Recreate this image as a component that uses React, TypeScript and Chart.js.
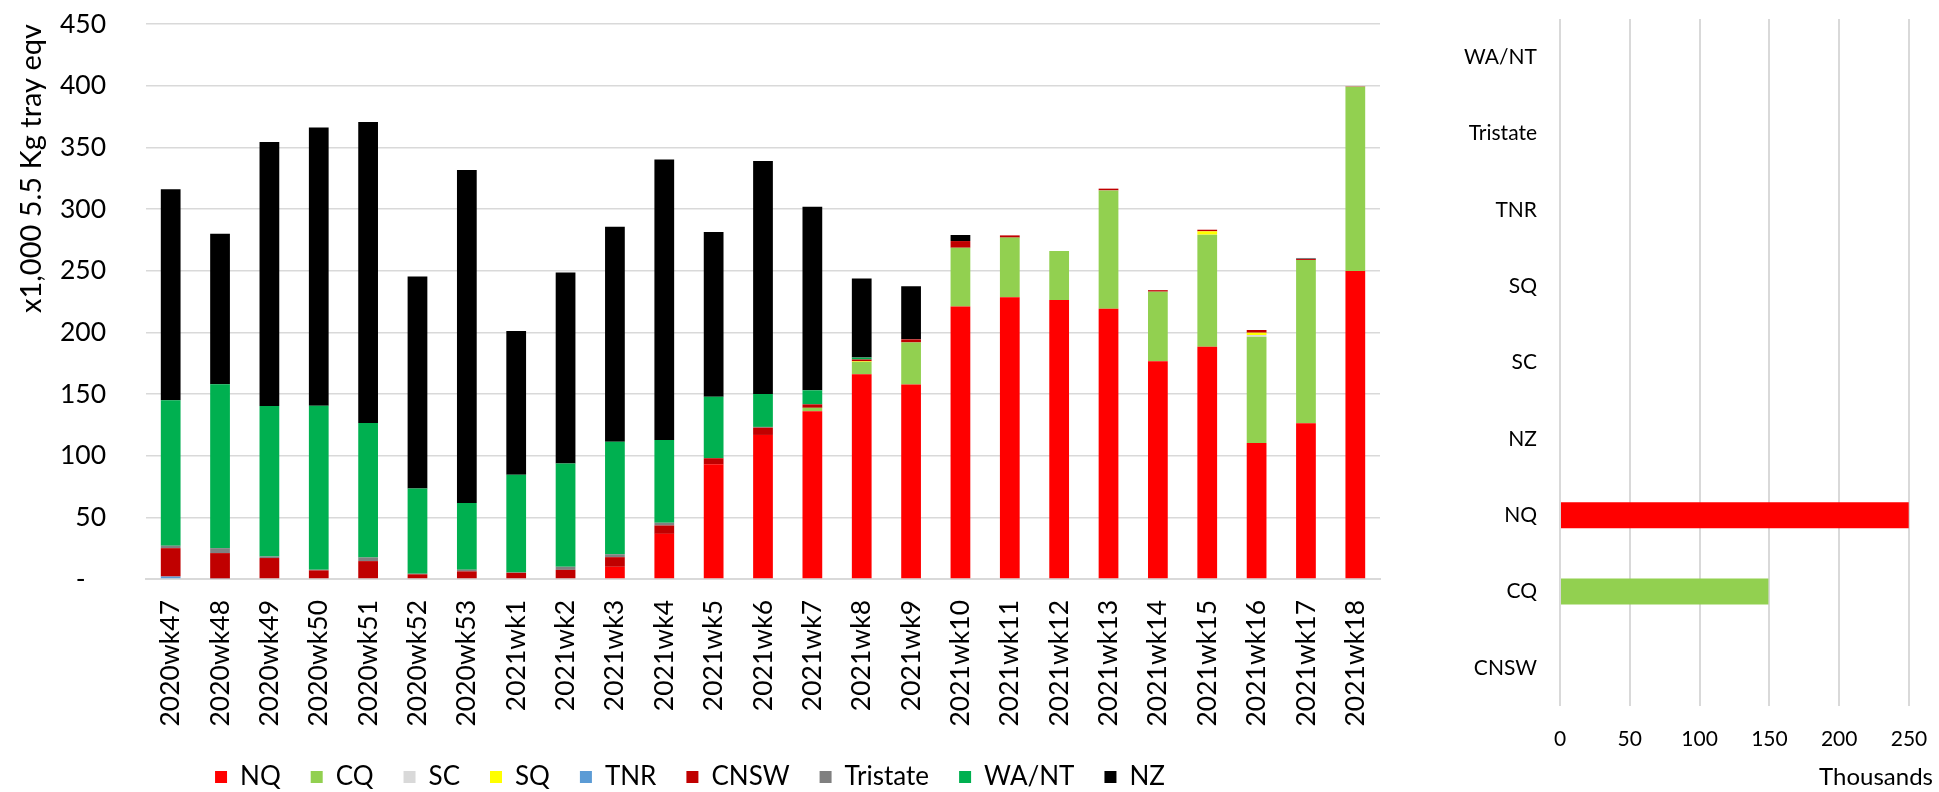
import React, { useEffect, useRef } from "react";
import { Chart, registerables } from "chart.js";

Chart.register(...registerables);

// ---------- data ----------
const weeks = [
  "2020wk47", "2020wk48", "2020wk49", "2020wk50", "2020wk51", "2020wk52", "2020wk53",
  "2021wk1", "2021wk2", "2021wk3", "2021wk4", "2021wk5", "2021wk6", "2021wk7", "2021wk8",
  "2021wk9", "2021wk10", "2021wk11", "2021wk12", "2021wk13", "2021wk14", "2021wk15",
  "2021wk16", "2021wk17", "2021wk18",
];

const NQ = [0, 0, 0, 0, 0, 0, 0, 0, 0, 9.9, 36.6, 93, 116.8, 136, 166, 157.7, 221, 228.4, 226.2, 219.2, 176.5, 188.4, 110.3, 126.2, 249.8];
const CQ = [0, 0, 0, 0, 0, 0, 0, 0, 0, 0, 0, 0, 0, 2.8, 10, 34.1, 47.6, 48.4, 39.8, 95.9, 56.5, 90.8, 86.2, 132.4, 149.3];
const SC = [0, 0, 0, 0, 0, 0, 0, 0, 0, 0, 0, 0, 0, 0, 0, 0, 0, 0, 0, 0, 0, 0, 1.3, 0, 0];
const SQ = [0, 0, 0, 0, 0, 0, 0, 0, 0, 0, 0, 0, 0, 0, 0.5, 0, 0, 0, 0, 0, 0, 2.7, 1.9, 0, 0];
const TNR = [2, 0.5, 0, 0, 0, 0, 0, 0, 0, 0, 0, 0, 0, 0, 0, 0, 0, 0, 0, 0, 0, 0, 0, 0, 0];
const CNSW = [23, 20.5, 17, 7, 14.5, 3.8, 6.2, 5, 7.4, 7.8, 6.8, 4.9, 5.9, 2.8, 1.5, 2.5, 5.4, 1.8, 0, 1.4, 1.2, 1.3, 2.2, 0.8, 0.3];
const Tristate = [2, 4, 1.3, 0.5, 3, 0.5, 1.4, 0.3, 2.5, 2.4, 2.2, 0, 0.6, 0, 0, 0, 0, 0, 0, 0, 0, 0, 0, 0.9, 0];
const WANT = [118, 133, 122, 133, 109, 69, 54, 79.3, 83.7, 91.1, 67.2, 49.9, 26.7, 11.4, 1.5, 0, 0, 0, 0, 0, 0, 0, 0, 0, 0];
const NZ = [171, 122, 214, 225.5, 244, 172, 270, 116.4, 155, 174.5, 227.4, 133.6, 189, 148.8, 64.1, 43.1, 4.9, 0, 0, 0, 0, 0, 0, 0, 0];

const leftMax = 450;
const leftStep = 50;

// right panel: latest week (2021wk18) by region, raw trays
const regions = ["WA/NT", "Tristate", "TNR", "SQ", "SC", "NZ", "NQ", "CQ", "CNSW"];
const latestWeek = [0, 0, 0, 0, 0, 0, 249800, 149300, 0];
const rightMax = 250000;
const rightStep = 50000;

// ---------- styles ----------
const FONT = "Lato, 'Noto Sans', sans-serif";
const COLORS: Record<string, string> = {
  NQ: "#FF0000",
  CQ: "#92D050",
  SC: "#D9D9D9",
  SQ: "#FFFF00",
  TNR: "#5B9BD5",
  CNSW: "#C00000",
  Tristate: "#808080",
  "WA/NT": "#00B050",
  NZ: "#000000",
};
const GRID = "#D9D9D9";

const LEFT_W = 1394;
const RIGHT_X = 1393;
const RIGHT_W = 1939 - RIGHT_X;
const H = 792;

export default function App() {
  const leftRef = useRef<HTMLCanvasElement | null>(null);
  const rightRef = useRef<HTMLCanvasElement | null>(null);

  useEffect(() => {
    let left: Chart | null = null;
    let right: Chart | null = null;
    let cancelled = false;

    const build = () => {
      if (cancelled || !leftRef.current || !rightRef.current) return;
      Chart.defaults.color = "#000";
      Chart.defaults.font.family = FONT;

      const series: [string, number[]][] = [
        ["NQ", NQ],
        ["CQ", CQ],
        ["SC", SC],
        ["SQ", SQ],
        ["TNR", TNR],
        ["CNSW", CNSW],
        ["Tristate", Tristate],
        ["WA/NT", WANT],
        ["NZ", NZ],
      ];

      left = new Chart(leftRef.current, {
        type: "bar",
        data: {
          labels: weeks,
          datasets: series.map(([name, vals]) => ({
            label: name,
            data: vals,
            backgroundColor: COLORS[name],
            borderWidth: 0,
            barPercentage: 0.4,
            categoryPercentage: 1,
          })),
        },
        options: {
          responsive: false,
          animation: false,
          layout: { padding: { top: 24, right: LEFT_W - 1380, left: 0, bottom: -8 } },
          plugins: {
            tooltip: { enabled: false },
            legend: {
              position: "bottom",
              labels: {
                boxWidth: 12,
                boxHeight: 12,
                padding: 30,
                font: { size: 26, family: FONT },
                color: "#000",
              },
            },
          },
          scales: {
            x: {
              stacked: true,
              grid: { display: false, drawTicks: false },
              border: { display: true, color: GRID, width: 2 },
              ticks: {
                autoSkip: false,
                minRotation: 90,
                maxRotation: 90,
                padding: 21,
                font: { size: 26.5, family: FONT },
                color: "#000",
              },
              afterFit: (s: any) => {
                s.height = 155;
                s.paddingLeft = 0;
                s.paddingRight = 0;
              },
            },
            y: {
              stacked: true,
              min: 0,
              max: leftMax,
              ticks: {
                stepSize: leftStep,
                padding: 40,
                font: { size: 26.5, family: FONT },
                color: "#000",
                callback: (v: any) => (Number(v) === 0 ? "-   " : String(v)),
              },
              grid: { color: GRID, lineWidth: 1.5, drawTicks: false },
              border: { display: false },
              title: {
                display: true,
                text: "x1,000 5.5 Kg tray eqv",
                align: "end",
                font: { size: 29, family: FONT },
                color: "#000",
                padding: { top: 14, bottom: 0 },
              },
              afterFit: (s: any) => {
                s.width = 146;
                s.paddingTop = 0;
                s.paddingBottom = 0;
              },
            },
          },
        },
      });

      const thousandsPlugin = {
        id: "thousandsLabel",
        afterDraw(chart: any) {
          const ctx = chart.ctx;
          ctx.save();
          ctx.font = `24px ${FONT}`;
          ctx.fillStyle = "#000";
          ctx.textAlign = "right";
          ctx.textBaseline = "middle";
          ctx.fillText("Thousands", 1933 - RIGHT_X, 777);
          ctx.restore();
        },
      };

      right = new Chart(rightRef.current, {
        type: "bar",
        data: {
          labels: regions,
          datasets: [
            {
              label: "Latest week",
              data: latestWeek,
              backgroundColor: regions.map((r) => COLORS[r]),
              borderWidth: 0,
              barPercentage: 0.34,
              categoryPercentage: 1,
            },
          ],
        },
        options: {
          indexAxis: "y",
          responsive: false,
          animation: false,
          layout: { padding: { top: 19, right: RIGHT_W - (1909 - RIGHT_X), left: 0, bottom: 0 } },
          plugins: { legend: { display: false }, tooltip: { enabled: false } },
          scales: {
            x: {
              min: 0,
              max: rightMax,
              ticks: {
                stepSize: rightStep,
                padding: 21,
                font: { size: 21, family: FONT },
                color: "#000",
                callback: (v: any) => String(Number(v) / 1000),
              },
              grid: { color: GRID, lineWidth: 2, drawTicks: false },
              border: { display: false },
              afterFit: (s: any) => {
                s.height = H - 706;
                s.paddingLeft = 0;
                s.paddingRight = 0;
              },
            },
            y: {
              grid: { display: false, drawTicks: false },
              border: { display: false },
              ticks: {
                padding: 23,
                font: { size: 21, family: FONT },
                color: "#000",
              },
              afterFit: (s: any) => {
                s.width = 1560 - RIGHT_X;
                s.paddingTop = 0;
                s.paddingBottom = 0;
              },
            },
          },
        },
        plugins: [thousandsPlugin],
      });
    };

    const fontsReady = (document as any).fonts
      ? Promise.all([
          (document as any).fonts.load(`26px Lato`),
          (document as any).fonts.load(`21px Lato`),
        ]).catch(() => null)
      : Promise.resolve(null);
    fontsReady.then(build);

    return () => {
      cancelled = true;
      if (left) left.destroy();
      if (right) right.destroy();
    };
  }, []);

  return (
    <div style={{ position: "absolute", left: 0, top: 0, width: 1939, height: H, background: "#fff" }}>
      <canvas
        ref={leftRef}
        width={LEFT_W}
        height={H}
        style={{ position: "absolute", left: 0, top: 0, width: LEFT_W, height: H }}
      />
      <canvas
        ref={rightRef}
        width={RIGHT_W}
        height={H}
        style={{ position: "absolute", left: RIGHT_X, top: 0, width: RIGHT_W, height: H }}
      />
    </div>
  );
}
